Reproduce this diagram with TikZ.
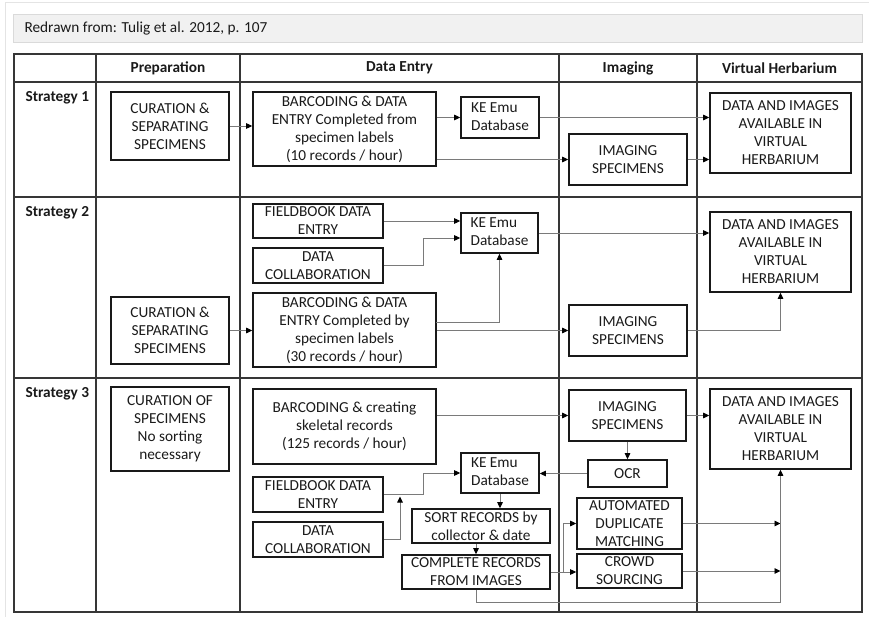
\documentclass[tikz,border=0pt]{standalone}
\usepackage{fontspec}
\setmainfont{Carlito}
\usetikzlibrary{arrows.meta,calc}
\definecolor{ink}{HTML}{1A1A1A}
\definecolor{gridline}{HTML}{363636}
\definecolor{wire}{HTML}{7A7A7A}
\definecolor{banner}{HTML}{F1F1F1}
\definecolor{bannerline}{HTML}{DADADA}
\definecolor{frameline}{HTML}{E4E4E4}

% box with corners (x1,y1) and (x2,y2), y measured downwards
\newcommand\boxat[6]{%
  \node[box,minimum width={(#4)-(#2)},minimum height={(#5)-(#3)}] (#1)
    at ({((#2)+(#4))/2},{((#3)+(#5))/2}) {#6};}

\tikzset{
  txt/.style={font=\fontsize{15.3}{18}\selectfont, text=ink},
  box/.style={txt, draw=black!90, line width=1.6pt, inner sep=0pt, align=center},
  head/.style={font=\fontsize{15.3}{18}\selectfont\bfseries, text=ink},
  conn/.style={draw=wire, line width=0.9pt,
    -{Triangle[length=6pt,width=5.5pt,color=black]}},
  grid/.style={draw=gridline, line width=1.6pt},
}

\begin{document}
\begin{tikzpicture}[x=1pt,y=-1pt]
\useasboundingbox (0,0) rectangle (869,617);

% page frame and source banner
\draw[frameline, line width=1pt] (5,617) -- (5,3) -- (869,3);
\node[draw=bannerline, fill=banner, line width=1pt, minimum width=849pt,
      minimum height=28pt, inner sep=0pt] (banner) at (437.5,29) {};
\node[txt, anchor=west] (source) at (21,29) {Redrawn from: Tulig et al. 2012, p. 107};

% table grid
\draw[grid] (14,54) rectangle (862,612);
\foreach \y in {82,197,378} \draw[grid] (14,\y) -- (862,\y);
\foreach \x in {96,240,559,697} \draw[grid] (\x,54) -- (\x,612);

% column and row headings
\node[head] (hprep) at (168,68) {Preparation};
\node[head] (hdata) at (399.5,68) {Data Entry};
\node[head] (himg)  at (628,68) {Imaging};
\node[head] (hvh)   at (779.5,68) {Virtual Herbarium};
\node[head, anchor=north west] (s1) at (22,88)  {Strategy 1};
\node[head, anchor=north west] (s2) at (22,203) {Strategy 2};
\node[head, anchor=north west] (s3) at (22,384) {Strategy 3};

% ---------- Strategy 1 ----------
\boxat{cur1}{111}{92}{229}{160}{CURATION \&\\SEPARATING\\SPECIMENS}
\boxat{bar1}{253}{92}{436}{166}{BARCODING \& DATA\\ENTRY Completed from\\specimen labels\\(10 records / hour)}
\boxat{ke1}{461}{97}{539}{138}{\begin{tabular}{@{}l@{}}KE Emu\\Database\end{tabular}}
\boxat{img1}{569}{134}{687}{185}{IMAGING\\SPECIMENS}
\boxat{vh1}{710}{93}{851}{173}{DATA AND IMAGES\\AVAILABLE IN\\VIRTUAL\\HERBARIUM}

\draw[conn] (cur1.east) -- (cur1.east -| bar1.west);
\draw[conn] (bar1.east |- ke1) -- (ke1.west);
\draw[conn] (ke1.east) -- (ke1.east -| vh1.west);
\draw[conn] (bar1.east |- img1) -- (img1.west);
\draw[conn] (img1.east) -- (img1.east -| vh1.west);

% ---------- Strategy 2 ----------
\boxat{fb2}{253}{204}{383}{238}{FIELDBOOK DATA\\ENTRY}
\boxat{dc2}{253}{248}{383}{283}{DATA\\COLLABORATION}
\boxat{ke2}{461}{213}{538}{253}{\begin{tabular}{@{}l@{}}KE Emu\\Database\end{tabular}}
\boxat{cur2}{111}{297}{229}{364}{CURATION \&\\SEPARATING\\SPECIMENS}
\boxat{bar2}{253}{293}{436}{367}{BARCODING \& DATA\\ENTRY Completed by\\specimen labels\\(30 records / hour)}
\boxat{img2}{569}{305}{687}{356}{IMAGING\\SPECIMENS}
\boxat{vh2}{710}{212}{851}{292}{DATA AND IMAGES\\AVAILABLE IN\\VIRTUAL\\HERBARIUM}

\coordinate (j2) at (423,238);
\coordinate (t2) at (436,322);
\draw[conn] (fb2.east) -- (fb2.east -| ke2.west);
\draw[conn] (dc2.east) -| (j2) -- (j2 -| ke2.west);
\draw[conn] (cur2.east) -- (cur2.east -| bar2.west);
\draw[conn] (t2) -| (ke2.south);
\draw[conn] (bar2.east |- img2) -- (img2.west);
\draw[conn] (ke2.east) -- (ke2.east -| vh2.west);
\draw[conn] (img2.east) -| (vh2.south);

% ---------- Strategy 3 ----------
\boxat{cur3}{111}{387}{229}{471}{CURATION OF\\SPECIMENS\\No sorting\\necessary}
\boxat{bar3}{253}{389}{436}{464}{BARCODING \& creating\\skeletal records\\(125 records / hour)}
\boxat{fb3}{253}{477}{383}{512}{FIELDBOOK DATA\\ENTRY}
\boxat{dc3}{253}{522}{383}{557}{DATA\\COLLABORATION}
\boxat{ke3}{461}{453}{539}{493}{\begin{tabular}{@{}l@{}}KE Emu\\Database\end{tabular}}
\boxat{sort}{412}{509}{550}{543}{SORT RECORDS by\\collector \& date}
\boxat{comp}{402}{555}{550}{589}{COMPLETE RECORDS\\FROM IMAGES}
\boxat{img3}{569}{390}{686}{441}{IMAGING\\SPECIMENS}
\boxat{ocr}{588}{460}{667}{487}{OCR}
\boxat{auto}{577}{498}{682}{549}{AUTOMATED\\DUPLICATE\\MATCHING}
\boxat{crowd}{577}{554}{682}{588}{CROWD\\SOURCING}
\boxat{vh3}{710}{389}{851}{469}{DATA AND IMAGES\\AVAILABLE IN\\VIRTUAL\\HERBARIUM}

\coordinate (j3) at (423,473);
\coordinate (x400) at (400,0);
\coordinate (x563) at (563,0);
\draw[conn] (bar3.east |- img3) -- (img3.west);
\draw[conn] (img3.east) -- (img3.east -| vh3.west);
\draw[conn] (ocr.north |- img3.south) -- (ocr.north);
\draw[conn] (ocr.west) -- (ocr.west -| ke3.east);
\draw[conn] (fb3.east) -| (j3) -- (ke3.west);
\draw[conn] (dc3.east) -| ([yshift=-2pt]fb3.east -| x400);
\draw[conn] (ke3.south) -- (ke3.south |- sort.north);
\draw[conn] (comp.north |- sort.south) -- (comp.north);
\draw[conn] (comp.east) -- (comp.east -| crowd.west);
\draw[conn] (comp.east -| x563) |- (auto.west);
\draw[conn] (auto.east) -- (auto.east -| vh3.south);
\draw[conn] (crowd.east) -- (crowd.east -| vh3.south);
\draw[conn] (comp.south) -- ++(0,13) -| (vh3.south);
\end{tikzpicture}
\end{document}
